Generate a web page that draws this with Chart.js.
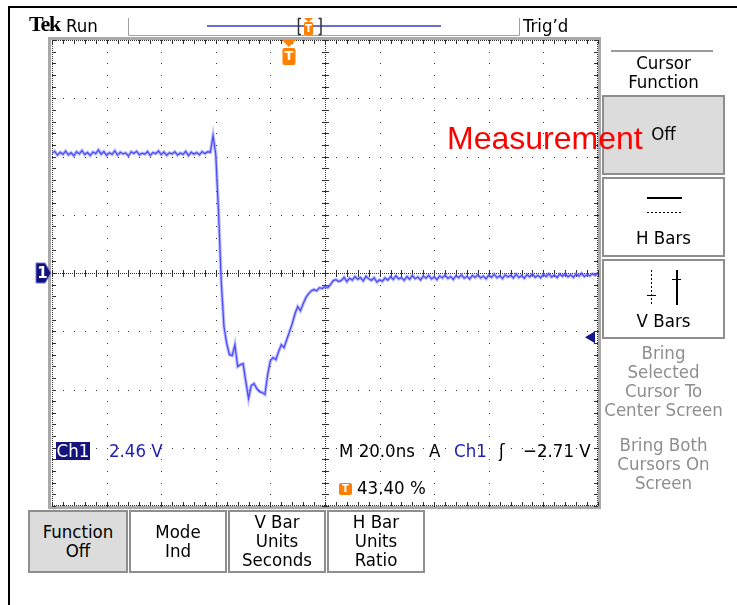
<!DOCTYPE html>
<html>
<head>
<meta charset="utf-8">
<script src="https://cdn.jsdelivr.net/npm/chart.js@4.4.1/dist/chart.umd.min.js"></script>
<style>
  html, body { margin: 0; padding: 0; background: #fff; }
  #scope { position: relative; width: 737px; height: 605px; overflow: hidden;
    font-family: 'DejaVu Sans Condensed', 'DejaVu Sans', sans-serif; font-stretch: condensed;
    font-size: 18.5px; color: #000; }
  #scope canvas { position: absolute; left: 0; top: 0; }
  .t { position: absolute; white-space: nowrap; line-height: 19px; }
  .c { text-align: center; }
  .box { position: absolute; box-sizing: border-box; border: 2px solid #8e8e8e; background: #fff; }
  .btn { display: flex; flex-direction: column; justify-content: center; align-items: center; line-height: 18.7px; }
  .on { background: #dcdcdc; }
  .gray { color: #8e8e8e; }
  .blue { color: #1e1eb4; }
  .rule { position: absolute; background: #000; }
</style>
</head>
<body>
<div id="scope">
  <canvas id="scope-canvas" width="737" height="605"></canvas>

  <!-- outer frame -->
  <div class="rule" style="left:8px;top:6px;width:2px;height:599px"></div>
  <div class="rule" style="left:8px;top:6px;width:729px;height:2px"></div>

  <!-- status bar -->
  <div class="t" style="left:29px;top:14px;font-family:'Liberation Serif';font-weight:bold;font-size:22px;letter-spacing:-1.2px;font-stretch:normal">Tek</div>
  <div class="t" style="left:66px;top:16px">Run</div>
  <div class="t" style="left:523px;top:16px">Trig’d</div>

  <!-- readouts -->
  <div class="t" style="left:56px;top:442px;width:34px;height:18px;line-height:18px;background:#14147c;color:#fff;text-align:center">Ch1</div>
  <div class="t blue" style="left:109px;top:441px">2.46 V</div>
  <div class="t" style="left:339px;top:441px">M 20.0ns</div>
  <div class="t" style="left:429px;top:441px">A</div>
  <div class="t blue" style="left:454px;top:441px">Ch1</div>
  <div class="t" style="left:499px;top:441px">ʃ</div>
  <div class="t" style="left:523px;top:441px">−2.71 V</div>
  <div class="t" style="left:339px;top:483px;width:13px;height:12px;line-height:12px;background:#ff7f00;color:#fff;font-size:11px;font-weight:bold;text-align:center;border-radius:2px">T</div>
  <div class="t" style="left:357px;top:478px">43.40 %</div>

  <!-- side menu -->
  <div class="rule" style="left:611px;top:50px;width:102px;height:2px;background:#9a9a9a"></div>
  <div class="t c" style="left:602px;top:54px;width:123px;line-height:18.5px">Cursor<br>Function</div>
  <div class="box on" style="left:602px;top:95px;width:123px;height:80px"></div>
  <div class="t c" style="left:602px;top:124px;width:123px">Off</div>
  <div class="box" style="left:602px;top:177px;width:123px;height:80px"></div>
  <div class="rule" style="left:647px;top:197px;width:35px;height:1.5px"></div>
  <div class="rule" style="left:647px;top:212px;width:35px;height:1px;background:repeating-linear-gradient(90deg,#000 0 2px,transparent 2px 4px)"></div>
  <div class="t c" style="left:602px;top:228px;width:123px">H Bars</div>
  <div class="box" style="left:602px;top:259px;width:123px;height:80px"></div>
  <div class="rule" style="left:651px;top:270px;width:1px;height:35px;background:repeating-linear-gradient(180deg,#000 0 2px,transparent 2px 4px)"></div>
  <div class="rule" style="left:647px;top:295px;width:9px;height:1px"></div>
  <div class="rule" style="left:676px;top:270px;width:1.5px;height:35px"></div>
  <div class="rule" style="left:672px;top:279px;width:9px;height:1px"></div>
  <div class="t c" style="left:602px;top:311px;width:123px">V Bars</div>
  <div class="t c gray" style="left:598px;top:343px;width:131px;line-height:19px">Bring<br>Selected<br>Cursor To<br>Center Screen</div>
  <div class="t c gray" style="left:598px;top:435px;width:131px;line-height:19px">Bring Both<br>Cursors On<br>Screen</div>

  <!-- bottom menu -->
  <div class="box btn on" style="left:28px;top:510px;width:100px;height:63px"><div>Function</div><div>Off</div></div>
  <div class="box btn" style="left:129px;top:510px;width:98px;height:63px"><div>Mode</div><div>Ind</div></div>
  <div class="box btn" style="left:228px;top:510px;width:98px;height:63px"><div>V Bar</div><div>Units</div><div>Seconds</div></div>
  <div class="box btn" style="left:327px;top:510px;width:98px;height:63px"><div>H Bar</div><div>Units</div><div>Ratio</div></div>

  <!-- annotation laid over the screenshot -->
  <div class="t" style="left:447px;top:122px;font-family:'Liberation Sans';font-stretch:normal;font-size:32px;line-height:32px;color:#ff0000">Measurement</div>
</div>

<script>
// horizontal 20 ns/div, vertical 2.46 V/div, 10 x 8 divisions
const TIME_PER_DIV = 20;
const VOLTS_PER_DIV = 2.46;
const SAMPLE_NS = 1;
const TRIGGER_POS = 0.434;      // 43.40 % of record
const TRIGGER_LEVEL = -2.71;    // V

// Ch1 trace in volts, one sample per ns
const preEdge = [
  5.06, 5.14, 4.98, 5.10, 5.01, 5.15, 4.99, 5.08, 4.95, 5.12,
  5.03, 5.17, 5.00, 5.09, 4.96, 5.11, 5.04, 5.20, 5.02, 5.13,
  4.97, 5.08, 5.01, 5.16, 4.98, 5.10, 5.03, 5.07, 4.94, 5.12,
  5.05, 5.14, 4.99, 5.06, 5.02, 5.13, 4.96, 5.09, 5.04, 5.15,
  5.00, 5.11, 4.97, 5.08, 5.03, 5.12, 4.98, 5.07, 5.01, 5.14,
  4.96, 5.10, 5.02, 5.09, 4.99, 5.13, 5.04, 5.12
];
const edge = [
  5.10, 5.80, 5.00, 2.59, -0.37, -2.27, -2.98, -3.45, -3.49, -3.03,
  -3.95, -3.87, -3.83, -4.59, -5.30, -4.75, -4.67, -4.88, -5.01, -5.05,
  -5.13, -4.29, -3.70, -3.57, -3.66, -3.32, -3.03, -3.15, -2.81, -2.48,
  -2.14, -1.72, -1.42, -1.59, -1.30, -1.04, -0.87, -0.75, -0.70, -0.75,
  -0.62, -0.66, -0.57, -0.62, -0.49, -0.32, -0.28, -0.36
];
const tail = [
  -0.31, -0.18, -0.36, -0.22, -0.30, -0.15, -0.27, -0.19, -0.33, -0.14,
  -0.24, -0.31, -0.20, -0.38, -0.29, -0.35, -0.21, -0.30, -0.16, -0.27,
  -0.12, -0.25, -0.19, -0.31, -0.15, -0.26, -0.11, -0.24, -0.17, -0.29,
  -0.13, -0.22, -0.10, -0.25, -0.16, -0.28, -0.12, -0.21, -0.09, -0.23,
  -0.15, -0.27, -0.11, -0.20, -0.08, -0.22, -0.14, -0.25, -0.10, -0.19,
  -0.07, -0.21, -0.13, -0.24, -0.09, -0.18, -0.06, -0.20, -0.12, -0.23,
  -0.08, -0.17, -0.10, -0.21, -0.05, -0.19, -0.11, -0.22, -0.07, -0.16,
  -0.04, -0.18, -0.10, -0.20, -0.06, -0.15, -0.03, -0.17, -0.09, -0.19,
  -0.05, -0.14, -0.02, -0.16, -0.08, -0.18, -0.04, -0.13, -0.01, -0.15,
  -0.07, -0.12, -0.03, -0.10, 0.00
];

const ch1 = preEdge.concat(edge, tail).map((v, i) => ({ x: i * SAMPLE_NS, y: v }));

// dotted Tek graticule, drawn from the scales
const graticule = {
  id: 'graticule',
  beforeDatasetsDraw(chart) {
    const { ctx, chartArea: a, scales: { x, y } } = chart;
    const dot = (px, py, w = 1, h = 1) => ctx.fillRect(Math.round(px), Math.round(py), w, h);
    const xs = [], ys = [];
    for (let i = 0; i <= 50; i++) xs.push(x.getPixelForValue(i * TIME_PER_DIV / 5));
    for (let j = 0; j <= 40; j++) ys.push(y.getPixelForValue(-4 * VOLTS_PER_DIV + j * VOLTS_PER_DIV / 5));
    ctx.save();

    ctx.fillStyle = '#a9a9a9';
    ctx.fillRect(a.left - 4, a.top - 3, a.right - a.left + 7, 3);
    ctx.fillRect(a.left - 4, a.bottom, a.right - a.left + 7, 3);
    ctx.fillRect(a.left - 4, a.top - 3, 3, a.bottom - a.top + 6);
    ctx.fillRect(a.right, a.top - 3, 3, a.bottom - a.top + 6);

    ctx.fillStyle = '#2e2e2e';
    for (let i = 1; i < 10; i++) {
      if (i === 5) continue;
      ys.forEach(py => dot(xs[i * 5], py));
    }
    for (let j = 1; j < 8; j++) {
      if (j === 4) continue;
      xs.forEach(px => dot(px, ys[j * 5]));
    }

    // centre cross
    const cx = xs[25], cy = ys[20];
    for (let py = a.top; py < a.bottom; py += 2) dot(cx, py);
    for (let px = a.left; px < a.right; px += 2) dot(px, cy);
    ys.forEach(py => dot(cx - 3, py, 7, 1));
    xs.forEach(px => dot(px, cy - 3, 1, 7));

    // edge ticks
    for (let py = a.top; py < a.bottom; py += 2) { dot(a.left, py); dot(a.right - 1, py); }
    for (let px = a.left; px < a.right; px += 2) { dot(px, a.top); dot(px, a.bottom - 1); }
    ys.forEach(py => { dot(a.left, py, 4, 1); dot(a.right - 4, py, 4, 1); });
    xs.forEach(px => { dot(px, a.top, 1, 4); dot(px, a.bottom - 4, 1, 4); });
    ctx.restore();
  }
};

const markers = {
  id: 'markers',
  afterDraw(chart) {
    const { ctx, chartArea: a, scales: { x, y } } = chart;
    ctx.save();

    // status bar frame and record view
    ctx.strokeStyle = '#a0a0a0';
    ctx.lineWidth = 1;
    ctx.beginPath();
    ctx.moveTo(128.5, 18); ctx.lineTo(128.5, 35.5); ctx.lineTo(519.5, 35.5); ctx.lineTo(519.5, 18);
    ctx.stroke();
    ctx.strokeStyle = '#3b3bc8';
    ctx.lineWidth = 1.5;
    ctx.beginPath(); ctx.moveTo(207, 26); ctx.lineTo(441, 26); ctx.stroke();
    ctx.strokeStyle = '#333';
    ctx.lineWidth = 1.5;
    ctx.beginPath();
    ctx.moveTo(301, 18.5); ctx.lineTo(298.5, 18.5); ctx.lineTo(298.5, 34.5); ctx.lineTo(301, 34.5);
    ctx.moveTo(318.5, 18.5); ctx.lineTo(321, 18.5); ctx.lineTo(321, 34.5); ctx.lineTo(318.5, 34.5);
    ctx.stroke();
    ctx.fillStyle = '#ff7f00';
    ctx.beginPath(); ctx.moveTo(304, 18); ctx.lineTo(313, 18); ctx.lineTo(308.5, 22); ctx.closePath(); ctx.fill();
    ctx.beginPath(); ctx.roundRect(304, 22, 9, 13, 1.5); ctx.fill();
    ctx.fillStyle = '#fff';
    ctx.font = 'bold 10px "DejaVu Sans"';
    ctx.textAlign = 'center';
    ctx.textBaseline = 'middle';
    ctx.fillText('T', 308.5, 29);

    // trigger position
    const tx = x.getPixelForValue(TRIGGER_POS * 10 * TIME_PER_DIV);
    ctx.fillStyle = '#ff7f00';
    ctx.beginPath(); ctx.moveTo(tx - 7, a.top); ctx.lineTo(tx + 7, a.top); ctx.lineTo(tx, a.top + 7); ctx.closePath(); ctx.fill();
    ctx.beginPath(); ctx.roundRect(tx - 6.5, a.top + 8, 13, 17, 2); ctx.fill();
    ctx.fillStyle = '#fff';
    ctx.font = 'bold 13px "DejaVu Sans"';
    ctx.fillText('T', tx, a.top + 17);

    // ch1 ground reference
    const gy = y.getPixelForValue(0);
    ctx.fillStyle = '#12127c';
    ctx.strokeStyle = '#7070d8';
    ctx.lineWidth = 1;
    ctx.beginPath();
    ctx.moveTo(36, gy - 10); ctx.lineTo(45, gy - 10); ctx.lineTo(51, gy); ctx.lineTo(45, gy + 10); ctx.lineTo(36, gy + 10);
    ctx.closePath(); ctx.fill(); ctx.stroke();
    ctx.fillStyle = '#fff';
    ctx.font = 'bold 15px "DejaVu Sans"';
    ctx.fillText('1', 42.5, gy + 1);

    // trigger level
    const ly = y.getPixelForValue(TRIGGER_LEVEL);
    ctx.fillStyle = '#16168c';
    ctx.beginPath(); ctx.moveTo(a.right - 13, ly); ctx.lineTo(a.right - 3, ly - 6); ctx.lineTo(a.right - 3, ly + 6); ctx.closePath(); ctx.fill();
    ctx.restore();
  }
};

const ctx = document.getElementById('scope-canvas').getContext('2d');
new Chart(ctx, {
  type: 'line',
  data: {
    datasets: [
      { data: ch1, borderColor: 'rgba(110, 110, 255, 0.45)', borderWidth: 3.4, pointRadius: 0, tension: 0 },
      { data: ch1, borderColor: '#3030f0', borderWidth: 1.3, pointRadius: 0, tension: 0 }
    ]
  },
  options: {
    responsive: false,
    animation: false,
    events: [],
    layout: { padding: { left: 52, top: 40, right: 139, bottom: 99 } },
    plugins: { legend: { display: false }, tooltip: { enabled: false } },
    scales: {
      x: { type: 'linear', min: 0, max: 10 * TIME_PER_DIV, display: false },
      y: { type: 'linear', min: -4 * VOLTS_PER_DIV, max: 4 * VOLTS_PER_DIV, display: false }
    }
  },
  plugins: [graticule, markers]
});
</script>
</body>
</html>
